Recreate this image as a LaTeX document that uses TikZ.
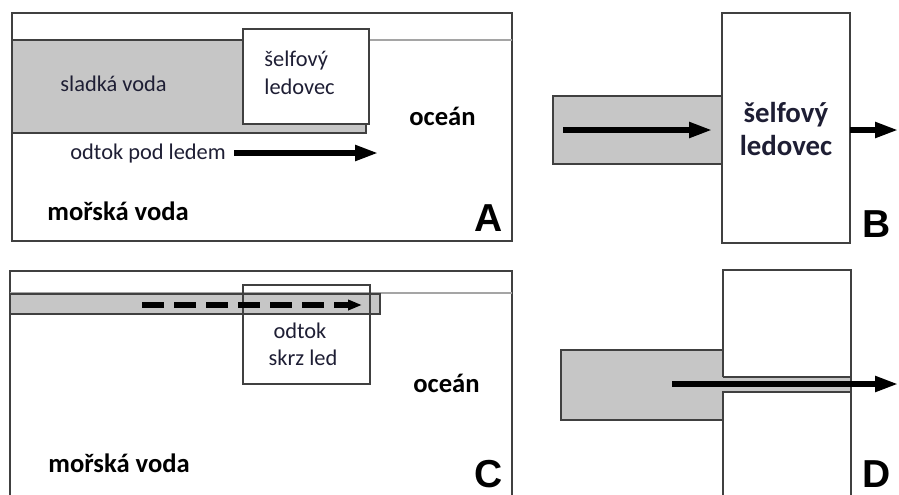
\documentclass[tikz,border=0pt]{standalone}
\usepackage{fontspec}
\setmainfont{Carlito}
\newfontfamily\letterfont{Liberation Sans}
\usetikzlibrary{arrows.meta}
\definecolor{framec}{RGB}{64,64,64}
\definecolor{surfc}{RGB}{165,165,165}
\definecolor{waterc}{RGB}{198,198,198}
\definecolor{txtc}{RGB}{30,30,52}
\begin{document}
\begin{tikzpicture}[x=0.5pt,y=-0.5pt,
  frame/.style={draw=framec,line width=0.8pt},
  surf/.style={draw=surfc,line width=0.8pt},
  water/.style={fill=waterc,draw=framec,line width=0.8pt},
  ice/.style={fill=white,draw=framec,line width=0.8pt},
  lbl/.style={font=\fontsize{11.2}{13}\selectfont,text=txtc,inner sep=0pt},
  boldlbl/.style={font=\fontsize{13.3}{15}\selectfont\bfseries,inner sep=0pt},
  shelflbl/.style={font=\fontsize{14.4}{16}\selectfont\bfseries,text=txtc,inner sep=0pt},
  letter/.style={font=\letterfont\bfseries\fontsize{19.5}{20}\selectfont,inner sep=0pt},
  flow/.style={line width=2.6pt,-{Triangle[length=11.5pt,width=7.5pt]}},
  dflow/.style={line width=2.8pt,dash pattern=on 11pt off 5pt,-{Triangle[length=7pt,width=5pt]}}]
\useasboundingbox (0,0) rectangle (899,494);

% ---------- Panel A ----------
\draw[frame] (12,13) rectangle (512,241);
\draw[surf] (12,40) -- (512,40);
\draw[water] (12,40) rectangle (366,133);
\draw[ice] (243,29) rectangle (369,124);
\node[lbl,anchor=base west] (aShelfA) at (264,66) {šelfový};
\node[lbl,anchor=base west] (aShelfB) at (264,94) {ledovec};
\node[lbl,anchor=base west] (aFresh) at (60,91) {sladká voda};
\node[boldlbl,anchor=base west] (aOcean) at (409,125) {oceán};
\node[lbl,anchor=base west] (aFlow) at (70,159) {odtok pod ledem};
\node[boldlbl,anchor=base west] (aSea) at (47,220) {mořská voda};
\node[letter,anchor=base] (aLetter) at (489,231) {A};
\coordinate (aS) at (234,153);
\coordinate (aE) at (378,153);
\draw[flow] (aS) -- (aE);

% ---------- Panel B ----------
\draw[water] (553,96) rectangle (722,164);
\draw[ice] (722,13) rectangle (850,243);
\node[shelflbl,anchor=base] (bShelfA) at (786,122) {šelfový};
\node[shelflbl,anchor=base] (bShelfB) at (786,155) {ledovec};
\node[letter,anchor=base] (bLetter) at (877,237) {B};
\coordinate (bS) at (563,130);
\coordinate (bE) at (712,130);
\coordinate (bOS) at (850,130);
\coordinate (bOE) at (898,130);
\draw[flow] (bS) -- (bE);
\draw[flow] (bOS) -- (bOE);

% ---------- Panel C ----------
\draw[frame] (10,500) -- (10,271) -- (512,271) -- (512,500);
\draw[surf] (10,293) -- (512,293);
\draw[water] (10,294) rectangle (380,314);
\draw[frame] (243,285) rectangle (370,384);
\node[lbl,anchor=base] (cFlowA) at (300,338) {odtok};
\node[lbl,anchor=base] (cFlowB) at (303,365) {skrz led};
\node[boldlbl,anchor=base west] (cOcean) at (413,392) {oceán};
\node[boldlbl,anchor=base west] (cSea) at (48,472) {mořská voda};
\node[letter,anchor=base] (cLetter) at (489,487) {C};
\coordinate (cS) at (142,305);
\coordinate (cE) at (362,305);
\draw[dflow] (cS) -- (cE);

% ---------- Panel D ----------
\fill[waterc] (561,350) rectangle (723,420);
\fill[waterc] (723,377) rectangle (851,392);
\draw[frame] (723,350) -- (561,350) -- (561,420) -- (723,420);
\draw[frame] (723,377) -- (723,270) -- (851,270) -- (851,500);
\draw[frame] (851,377) -- (723,377);
\draw[frame] (723,500) -- (723,392) -- (851,392);
\node[letter,anchor=base] (dLetter) at (877,487) {D};
\coordinate (dS) at (672,384);
\coordinate (dE) at (898,384);
\draw[flow] (dS) -- (dE);
\end{tikzpicture}
\end{document}
